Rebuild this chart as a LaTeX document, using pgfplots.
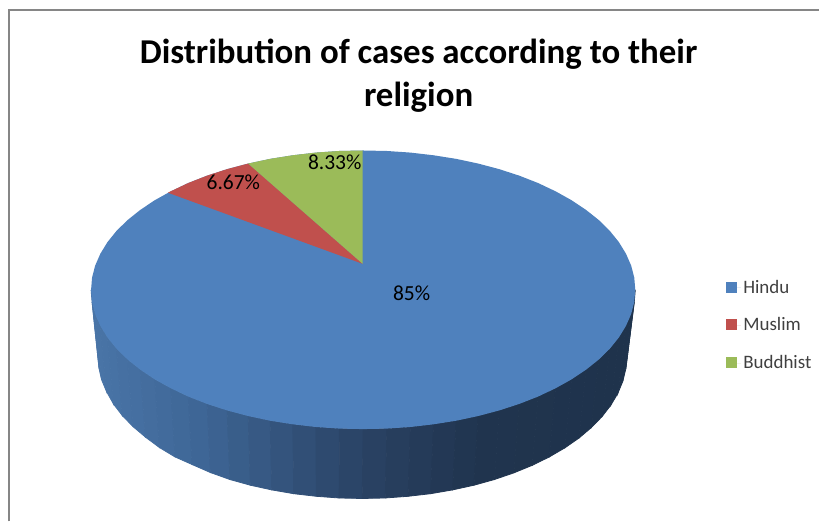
\documentclass[border=0pt]{standalone}
\usepackage{pgfplots}
\usepackage{fontspec}
\setmainfont{Carlito}
\pgfplotsset{compat=1.18}
\definecolor{hindu}{RGB}{79,129,189}
\definecolor{muslim}{RGB}{192,80,77}
\definecolor{buddhist}{RGB}{155,187,89}
\definecolor{frameline}{RGB}{134,134,134}

% side wall of the pie: upper edge then lower edge, in picture pixels
\pgfplotstableread{
x y
91.0 290
92.0 302.2
95.1 314.2
100.3 326.1
107.4 337.7
116.5 349.0
127.5 359.8
140.3 370.0
154.8 379.7
170.8 388.6
188.3 396.9
207.2 404.3
227.2 410.8
248.3 416.4
270.3 421.1
293.0 424.7
316.2 427.4
339.7 429.0
363.5 429.5
387.3 429.0
410.8 427.4
434.0 424.7
456.7 421.1
478.7 416.4
499.8 410.8
519.8 404.3
538.7 396.9
556.2 388.6
572.2 379.7
586.7 370.0
599.5 359.8
610.5 349.0
619.6 337.7
626.7 326.1
631.9 314.2
635.0 302.2
636.0 290

97.5 352
99 369
101.5 380
106.5 392
113.5 404.5
122.3 416
133 427
145.4 437.5
159.5 448
175.1 457.4
192.2 465
210.5 473
230 480
250.5 485.7
271.9 490.4
293.9 494.2
316.5 496.8
339.4 498.5
362.5 499
385.6 498.5
408.5 496.8
431.1 494.2
453.1 490.4
474.5 485.7
495 480
514.5 473.3
532.8 465.8
549.9 457.4
565.5 448.3
579.6 438.5
592 428
602.7 417
611.5 405.6
618.5 393.8
623.5 381.7
626.5 369.4
627.5 357
}\sidewall

\begin{document}
\begin{tikzpicture}
\begin{axis}[
    scale only axis, width=820pt, height=522pt,
    xmin=0, xmax=820, ymin=0, ymax=522,
    y dir=reverse, hide axis, clip=false,
    colormap={side}{rgb255(0cm)=(74,117,168) rgb255(1.1cm)=(62,102,150)
        rgb255(2.72cm)=(42,66,100) rgb255(3.9cm)=(32,52,78) rgb255(5.45cm)=(31,51,76)},
    point meta min=91, point meta max=636,
    legend style={at={(axis cs:727,278)}, anchor=north west, draw=none, fill=none,
        font=\fontsize{19}{20}\selectfont\color{black!75},
        row sep=19pt, inner sep=0pt},
    legend cell align=left,
    legend image code/.code={\path[draw=none] (0pt,0pt) rectangle (15pt,0pt);
        \fill[#1, draw=none] (0pt,-5.5pt) rectangle (11pt,5.5pt);},
]
\addplot[white, forget plot] coordinates {(0,0) (820,0) (820,522) (0,522) (0,0)};
% frame of the chart area
\addplot[frameline, line width=2pt, forget plot] coordinates {(9,522) (9,10) (820,10)};

\addplot[surf, shader=faceted, faceted color=mapped color, line width=0.8pt,
    mesh/rows=2, point meta=x, forget plot] table {\sidewall};

% top face
\addplot[draw=none, fill=hindu, forget plot] coordinates {
(636.0,290) (635.0,302.2) (631.9,314.2) (626.7,326.1) (619.6,337.7) (610.5,349.0)
(599.5,359.8) (586.7,370.0) (572.2,379.7) (556.2,388.6) (538.7,396.9) (519.8,404.3)
(499.8,410.8) (478.7,416.4) (456.7,421.1) (434.0,424.7) (410.8,427.4) (387.3,429.0)
(363.5,429.5) (339.7,429.0) (316.2,427.4) (293.0,424.7) (270.3,421.1) (248.3,416.4)
(227.2,410.8) (207.2,404.3) (188.3,396.9) (170.8,388.6) (154.8,379.7) (140.3,370.0)
(127.5,359.8) (116.5,349.0) (107.4,337.7) (100.3,326.1) (95.1,314.2) (92.0,302.2)
(91.0,290) (92.0,277.8) (95.1,265.8) (100.3,253.9) (107.4,242.3) (116.5,231.0)
(127.5,220.2) (140.3,210.0) (154.8,200.3) (170.8,191.4) (188.3,183.1) (207.2,175.7)
(227.2,169.2) (248.3,163.6) (270.3,158.9) (293.0,155.3) (316.2,152.6) (339.7,151.0)
(363.5,150.5) (387.3,151.0) (410.8,152.6) (434.0,155.3) (456.7,158.9) (478.7,163.6)
(499.8,169.2) (519.8,175.7) (538.7,183.1) (556.2,191.4) (572.2,200.3) (586.7,210.0)
(599.5,220.2) (610.5,231.0) (619.6,242.3) (626.7,253.9) (631.9,265.8) (635.0,277.8)
(636.0,290)} -- cycle;
\addplot[draw=none, fill=muslim, forget plot] coordinates {
(363,264) (168,192.8) (170.8,191.4) (188.3,183.1) (207.2,175.7) (227.2,169.2) (248.3,163.6)} -- cycle;
\addplot[draw=none, fill=buddhist, forget plot] coordinates {
(363,264) (248.3,163.6) (270.3,158.9) (293.0,155.3) (316.2,152.6) (339.7,151.0) (363,150.5)} -- cycle;

\addlegendimage{fill=hindu}
\addlegendimage{fill=muslim}
\addlegendimage{fill=buddhist}
\legend{Hindu,Muslim,Buddhist}

\node[font=\fontsize{21.5}{24}\selectfont] at (axis cs:412,293) {85\%};
\node[font=\fontsize{21.5}{24}\selectfont] at (axis cs:233.5,182) {6.67\%};
\node[font=\fontsize{21.5}{24}\selectfont] at (axis cs:335,162) {8.33\%};
\node[font=\fontsize{34.9}{43}\selectfont\bfseries, align=center] at (axis cs:419,75.5)
    {Distribution of cases according to their\\religion};
\end{axis}
\end{tikzpicture}
\end{document}
